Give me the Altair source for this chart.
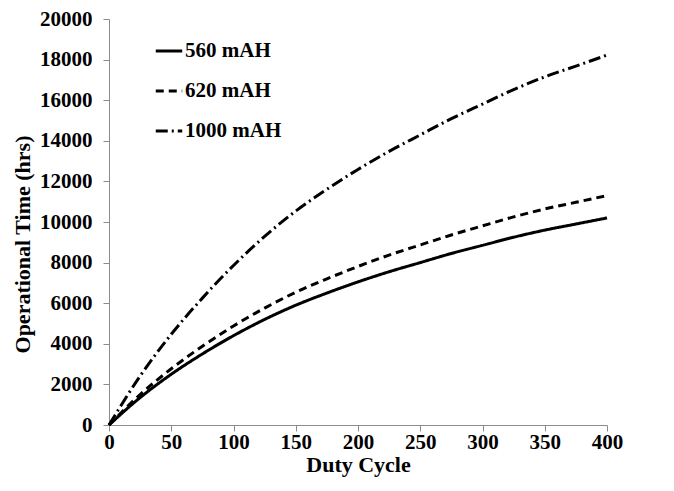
import altair as alt
import pandas as pd

duty = [0, 25, 50, 75, 100, 125, 150, 175, 200, 225, 250, 275, 300, 325, 350, 375, 400]
t560 = [0, 1350, 2500, 3500, 4400, 5200, 5900, 6500, 7050, 7550, 8000, 8450, 8850, 9250, 9600, 9900, 10200]
t620 = [0, 1500, 2770, 3880, 4880, 5760, 6540, 7200, 7810, 8370, 8870, 9360, 9810, 10250, 10640, 10970, 11300]
t1000 = [0, 2410, 4470, 6250, 7860, 9290, 10540, 11610, 12590, 13480, 14290, 15090, 15810, 16520, 17150, 17680, 18220]
series = ["560 mAH", "620 mAH", "1000 mAH"]
x_ticks = [0, 50, 100, 150, 200, 250, 300, 350, 400]
y_ticks = [0, 2000, 4000, 6000, 8000, 10000, 12000, 14000, 16000, 18000, 20000]

rows = []
for name, vals in zip(series, [t560, t620, t1000]):
    for d, v in zip(duty, vals):
        rows.append({"duty": d, "time": v, "series": name})
df = pd.DataFrame(rows)

FONT = "Liberation Serif"
GREY = "#8c8c8c"

chart = alt.Chart(df).mark_line(strokeWidth=3, color="black", interpolate="monotone").encode(
    x=alt.X("duty:Q",
            scale=alt.Scale(domain=[0, 400], nice=False),
            axis=alt.Axis(values=x_ticks, title="Duty Cycle", grid=False, labelFlush=False,
                          domainColor=GREY, tickColor=GREY, tickSize=6,
                          labelFont=FONT, labelFontSize=21, labelFontWeight="bold", labelColor="black",
                          labelPadding=0, titleFont=FONT, titleFontSize=22, titleFontWeight="bold",
                          titleColor="black", titlePadding=2)),
    y=alt.Y("time:Q",
            scale=alt.Scale(domain=[0, 20000], nice=False),
            axis=alt.Axis(values=y_ticks, title="Operational Time (hrs)", grid=False, format="d",
                          domainColor=GREY, tickColor=GREY, tickSize=6,
                          labelFont=FONT, labelFontSize=21, labelFontWeight="bold", labelColor="black",
                          labelPadding=11, titleFont=FONT, titleFontSize=22, titleFontWeight="bold",
                          titleColor="black", titlePadding=5, titleY=225)),
    strokeDash=alt.StrokeDash("series:N",
                              scale=alt.Scale(domain=series, range=[[1, 0], [8, 5], [12, 4, 2, 4]]),
                              legend=alt.Legend(title=None, orient="none", legendX=45, legendY=17,
                                                symbolType="stroke", symbolSize=700, symbolStrokeWidth=3,
                                                symbolStrokeColor="black",
                                                labelFont=FONT, labelFontSize=21, labelFontWeight="bold",
                                                labelColor="black", labelOffset=1, rowPadding=15)),
).properties(
    width=498, height=406,
    autosize=alt.AutoSizeParams(type="none"),
    padding={"left": 101, "top": 11, "right": 20, "bottom": 60},
).configure_view(stroke=None)

chart.save("out.html", embed_options={"renderer": "svg", "actions": False})
